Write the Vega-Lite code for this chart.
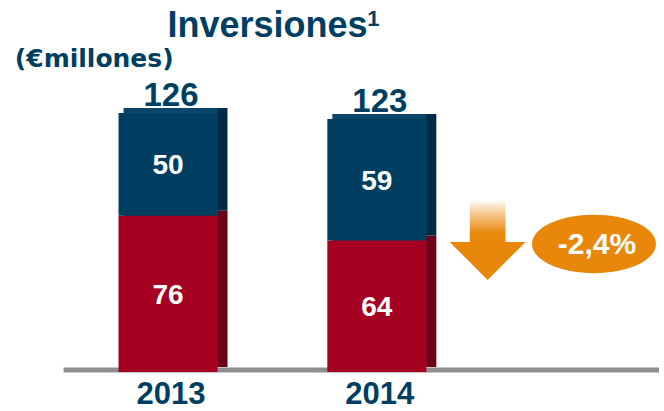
{
  "$schema": "https://vega.github.io/schema/vega-lite/v6.json",
  "width": 664,
  "height": 411,
  "padding": 0,
  "autosize": {"type": "none"},
  "background": "#FFFFFF",
  "config": {"view": {"stroke": null}, "font": "Liberation Sans"},
  "datasets": {
    "inv": [
      {"year": 2013, "serie": "a", "value": 76},
      {"year": 2013, "serie": "b", "value": 50},
      {"year": 2014, "serie": "a", "value": 64},
      {"year": 2014, "serie": "b", "value": 59}
    ],
    "one": [{}]
  },
  "resolve": {"scale": {"color": "independent"}},
  "layer": [
    {
      "data": {"name": "one"},
      "mark": {"type": "rule", "color": "#8E8E8E", "strokeWidth": 5},
      "encoding": {
        "x": {"datum": 2012.5, "type": "quantitative", "scale": {"domain": [2012.2193, 2015.3514], "nice": false, "zero": false}, "axis": null},
        "x2": {"datum": 2015.3514},
        "y": {"datum": 1.0, "type": "quantitative", "scale": {"domain": [-18.97, 180.93], "nice": false, "zero": false}, "axis": null}
      }
    },
    {
      "data": {"name": "inv"},
      "mark": {"type": "bar", "width": 99, "xOffset": 10, "yOffset": -5},
      "encoding": {
        "x": {"field": "year", "type": "quantitative", "scale": {"domain": [2012.2193, 2015.3514], "nice": false, "zero": false}, "axis": null},
        "y": {"field": "value", "type": "quantitative", "stack": "zero", "scale": {"domain": [-18.97, 180.93], "nice": false, "zero": false}, "axis": null},
        "color": {"field": "serie", "type": "nominal", "scale": {"domain": ["a", "b"], "range": ["#6B0019", "#002A45"]}, "legend": null},
        "order": {"field": "serie", "sort": "ascending"}
      }
    },
    {
      "data": {"name": "inv"},
      "mark": {"type": "bar", "width": 94, "xOffset": 2.5, "yOffset": -5},
      "encoding": {
        "x": {"field": "year", "type": "quantitative", "scale": {"domain": [2012.2193, 2015.3514], "nice": false, "zero": false}, "axis": null},
        "y": {"field": "value", "type": "quantitative", "stack": "zero", "scale": {"domain": [-18.97, 180.93], "nice": false, "zero": false}, "axis": null},
        "color": {"field": "serie", "type": "nominal", "scale": {"domain": ["a", "b"], "range": ["#A50021", "#0A4669"]}, "legend": null},
        "order": {"field": "serie", "sort": "ascending"}
      }
    },
    {
      "data": {"name": "inv"},
      "mark": {"type": "bar", "width": 99},
      "encoding": {
        "x": {"field": "year", "type": "quantitative", "scale": {"domain": [2012.2193, 2015.3514], "nice": false, "zero": false}, "axis": null},
        "y": {"field": "value", "type": "quantitative", "stack": "zero", "scale": {"domain": [-18.97, 180.93], "nice": false, "zero": false}, "axis": null},
        "color": {"field": "serie", "type": "nominal", "scale": {"domain": ["a", "b"], "range": ["#A50021", "#003F62"]}, "legend": null},
        "order": {"field": "serie", "sort": "ascending"}
      }
    },
    {
      "data": {"name": "inv"},
      "transform": [
        {"stack": "value", "groupby": ["year"], "sort": [{"field": "serie", "order": "ascending"}], "as": ["v0", "v1"]},
        {"calculate": "(datum.v0 + datum.v1) / 2", "as": "mid"}
      ],
      "mark": {"type": "text", "color": "#FFFFFF", "fontSize": 28, "fontWeight": "bold", "baseline": "middle", "dy": 2},
      "encoding": {
        "x": {"field": "year", "type": "quantitative", "scale": {"domain": [2012.2193, 2015.3514], "nice": false, "zero": false}, "axis": null},
        "y": {"field": "mid", "type": "quantitative", "scale": {"domain": [-18.97, 180.93], "nice": false, "zero": false}, "axis": null},
        "text": {"field": "value", "type": "quantitative"}
      }
    },
    {
      "data": {"name": "inv"},
      "transform": [{"aggregate": [{"op": "sum", "field": "value", "as": "total"}], "groupby": ["year"]}],
      "layer": [
        {
          "mark": {"type": "text", "color": "#003F62", "fontSize": 33, "fontWeight": "bold", "baseline": "alphabetic", "dy": -7, "dx": 3},
          "encoding": {
            "x": {"field": "year", "type": "quantitative", "scale": {"domain": [2012.2193, 2015.3514], "nice": false, "zero": false}, "axis": null},
            "y": {"field": "total", "type": "quantitative", "scale": {"domain": [-18.97, 180.93], "nice": false, "zero": false}, "axis": null},
            "text": {"field": "total", "type": "quantitative"}
          }
        },
        {
          "mark": {"type": "text", "color": "#003F62", "fontSize": 31, "fontWeight": "bold", "baseline": "bottom", "dx": 3},
          "encoding": {
            "x": {"field": "year", "type": "quantitative", "scale": {"domain": [2012.2193, 2015.3514], "nice": false, "zero": false}, "axis": null},
            "y": {"datum": -18.9, "type": "quantitative", "scale": {"domain": [-18.97, 180.93], "nice": false, "zero": false}, "axis": null},
            "text": {"field": "year", "type": "quantitative", "format": "d"}
          }
        }
      ]
    },
    {
      "data": {"name": "one"},
      "mark": {"type": "text", "color": "#003F62", "fontSize": 36, "fontWeight": "bold", "align": "left", "baseline": "alphabetic", "text": "Inversiones"},
      "encoding": {
        "x": {"datum": 2012.9976, "type": "quantitative", "scale": {"domain": [2012.2193, 2015.3514], "nice": false, "zero": false}, "axis": null},
        "y": {"datum": 163.1, "type": "quantitative", "scale": {"domain": [-18.97, 180.93], "nice": false, "zero": false}, "axis": null}
      }
    },
    {
      "data": {"name": "one"},
      "mark": {"type": "text", "color": "#003F62", "fontSize": 22, "fontWeight": "bold", "align": "left", "baseline": "alphabetic", "text": "1"},
      "encoding": {
        "x": {"datum": 2013.9538, "type": "quantitative", "scale": {"domain": [2012.2193, 2015.3514], "nice": false, "zero": false}, "axis": null},
        "y": {"datum": 168.3, "type": "quantitative", "scale": {"domain": [-18.97, 180.93], "nice": false, "zero": false}, "axis": null}
      }
    },
    {
      "data": {"name": "one"},
      "mark": {"type": "text", "color": "#003F62", "font": "DejaVu Sans", "fontSize": 25, "fontWeight": "bold", "align": "left", "baseline": "alphabetic", "dx": -3, "text": "(€millones)"},
      "encoding": {
        "x": {"datum": 2012.2807, "type": "quantitative", "scale": {"domain": [2012.2193, 2015.3514], "nice": false, "zero": false}, "axis": null},
        "y": {"datum": 148.3, "type": "quantitative", "scale": {"domain": [-18.97, 180.93], "nice": false, "zero": false}, "axis": null}
      }
    },
    {
      "data": {"name": "one"},
      "mark": {
        "type": "point",
        "filled": true,
        "opacity": 1,
        "size": 5776,
        "shape": "M-0.47,-1.05L0.47,-1.05L0.47,0.05L1,0.05L0,1.05L-1,0.05L-0.47,0.05Z",
        "fill": {
          "gradient": "linear", "x1": 0, "y1": 0, "x2": 0, "y2": 1,
          "stops": [
            {"offset": 0, "color": "#FFFFFF"},
            {"offset": 0.12, "color": "#F8D6AC"},
            {"offset": 0.42, "color": "#E9870B"},
            {"offset": 1, "color": "#E9870B"}
          ]
        }
      },
      "encoding": {
        "x": {"datum": 2014.5307, "type": "quantitative", "scale": {"domain": [2012.2193, 2015.3514], "nice": false, "zero": false}, "axis": null},
        "y": {"datum": 64.2, "type": "quantitative", "scale": {"domain": [-18.97, 180.93], "nice": false, "zero": false}, "axis": null}
      }
    },
    {
      "data": {"name": "one"},
      "mark": {
        "type": "point",
        "filled": true,
        "opacity": 1,
        "size": 15376,
        "color": "#E9870B",
        "shape": "M-1,0A1,0.47,0,1,0,1,0A1,0.47,0,1,0,-1,0Z"
      },
      "encoding": {
        "x": {"datum": 2015.04, "type": "quantitative", "scale": {"domain": [2012.2193, 2015.3514], "nice": false, "zero": false}, "axis": null},
        "y": {"datum": 62.26, "type": "quantitative", "scale": {"domain": [-18.97, 180.93], "nice": false, "zero": false}, "axis": null}
      }
    },
    {
      "data": {"name": "one"},
      "mark": {"type": "text", "color": "#FFFFFF", "fontSize": 30, "fontWeight": "bold", "align": "center", "baseline": "middle", "dx": 3, "dy": 1, "text": "-2,4%"},
      "encoding": {
        "x": {"datum": 2015.04, "type": "quantitative", "scale": {"domain": [2012.2193, 2015.3514], "nice": false, "zero": false}, "axis": null},
        "y": {"datum": 62.26, "type": "quantitative", "scale": {"domain": [-18.97, 180.93], "nice": false, "zero": false}, "axis": null}
      }
    }
  ]
}
